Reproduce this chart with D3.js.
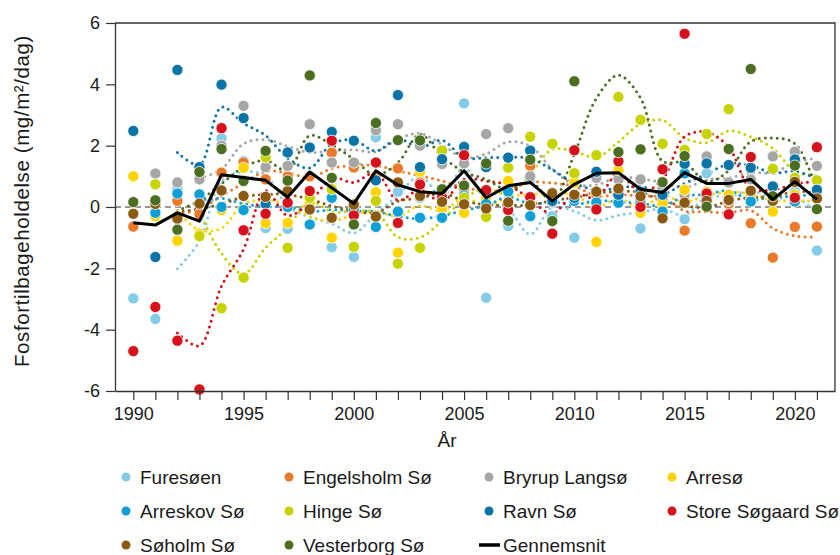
<!DOCTYPE html>
<html>
<head>
<meta charset="utf-8">
<script src="https://cdn.jsdelivr.net/npm/d3@7"></script>
<style>
  body { margin: 0; background: #fff; }
  text { font-family: "Liberation Sans", Arial, sans-serif; fill: #1a1a1a; }
</style>
</head>
<body>
<svg id="chart" width="840" height="555"></svg>
<script>
// Phosphorus retention per lake, mg/m²/dag, one value per year 1990–2021
const years = d3.range(1990, 2022);

const furesoen     = [-2.98, -3.65, 0.6, -0.3, 2.24, 1.5, -0.69, -0.71, 0.4, -1.31, -1.63, 2.27, 0.5, 0.3, 0.2, 3.38, -2.96, -0.62, 0.9, -0.3, -1.0, 0.0, 0.2, -0.7, 0.3, -0.4, 1.1, 0.3, 0.2, 0.3, 0.5, -1.42];
const engelsholm   = [-0.64, -0.2, 0.2, -0.23, 1.12, 1.45, 0.9, 1.0, 1.0, 1.77, 1.29, 1.0, 1.26, 0.8, 0.5, 0.6, 0.5, 0.6, 1.34, 0.4, 0.3, 0.4, 0.5, 0.2, 0.2, -0.77, 0.1, 0.1, -0.53, -1.65, -0.65, -0.64];
const bryrup       = [null, 1.09, 0.8, 0.9, 2.0, 3.3, 1.3, 1.34, 2.7, 1.45, 1.45, 2.5, 2.7, 2.0, 1.4, 1.42, 2.38, 2.57, 1.0, 0.15, 1.07, 0.95, 0.9, 0.9, 0.6, 0.4, 1.65, 0.8, 0.9, 1.65, 1.8, 1.34];
const arreso       = [1.0, -0.3, -1.1, -0.87, -0.1, 1.28, -0.53, -0.52, 0.14, -1.0, 0.1, 0.48, -1.49, 1.15, -0.05, -0.19, 0.3, 0.85, 0.1, 0.3, 0.8, -1.14, 1.2, -0.19, 0.1, 0.56, 0.5, 0.4, 0.4, -0.15, 0.4, 0.3];
const arreskov     = [null, -0.19, 0.44, 0.41, 0.0, -0.1, 0.14, 0.0, -0.57, 0.3, -0.1, -0.65, -0.15, -0.35, -0.35, 0.38, 0.1, 0.5, -0.3, 0.3, 0.2, 0.15, 0.14, 0.1, -0.15, 1.1, 0.3, 0.2, 0.18, 0.67, 0.18, 0.5];
const hinge        = [null, 0.74, -0.3, -0.95, -3.3, -2.3, 1.62, -1.33, 0.3, 0.58, -1.3, 0.2, -1.85, -1.33, 1.84, 0.3, -0.32, 1.28, 2.29, 2.06, 1.1, 1.69, 3.59, 2.84, 2.06, 1.86, 2.38, 3.19, 1.3, 1.25, 0.95, 0.87];
const ravn         = [2.48, -1.63, 4.47, 1.3, 3.99, 2.9, 0.1, 1.78, 1.94, 2.45, 2.16, 0.87, 3.65, 1.3, 1.56, 1.96, 1.3, 1.61, 1.84, 0.2, 0.3, 1.15, 0.4, 0.5, 0.4, 1.41, 1.42, 1.37, 1.28, 0.67, 1.55, 0.56];
const storeSogaard = [-4.7, -3.26, -4.36, -5.95, 2.57, -0.76, -0.22, 0.14, 0.52, 2.16, -0.27, 1.45, -0.52, 0.73, 0.3, 1.69, 0.55, -0.1, 0.32, -0.87, 1.85, -0.08, 1.49, 0.0, 1.23, 5.65, 0.44, -0.24, 1.63, 0.3, 0.3, 1.95];
const soholm       = [-0.22, 0.1, -0.38, 0.11, 0.54, 0.36, 0.33, 0.52, -0.08, -0.35, 0.08, -0.31, 0.8, 0.36, 0.17, 0.09, -0.05, 0.15, 0.06, 0.45, 0.4, 0.5, 0.6, 0.35, -0.37, 0.14, 0.2, 0.23, 0.53, 0.2, 0.82, 0.28];
const vesterborg   = [0.16, 0.22, -0.74, 1.14, 1.89, 0.85, 1.83, 0.86, 4.29, 0.95, -0.57, 2.74, 2.18, 2.17, 0.58, 0.7, 1.42, -0.45, 1.54, -0.46, 4.1, 7.0, 1.79, 1.88, 0.81, 1.66, 0.01, 1.89, 4.5, 0.35, 1.35, -0.07];

// Average over all lakes
const gennemsnit   = [-0.51, -0.59, -0.19, -0.46, 1.05, 0.96, 0.87, 0.32, 1.14, 0.63, 0.11, 1.18, 0.72, 0.5, 0.44, 1.18, 0.3, 0.69, 0.8, 0.2, 0.74, 1.1, 1.12, 0.58, 0.47, 1.12, 0.77, 0.77, 0.9, 0.25, 0.83, 0.25];

const lakeNames  = ["Furesøen", "Engelsholm Sø", "Bryrup Langsø", "Arresø", "Arreskov Sø", "Hinge Sø", "Ravn Sø", "Store Søgaard Sø", "Søholm Sø", "Vesterborg Sø"];
const lakeValues = [furesoen, engelsholm, bryrup, arreso, arreskov, hinge, ravn, storeSogaard, soholm, vesterborg];
const lakeColors = ["#84cbe8", "#e9792b", "#a6a6a6", "#fdd400", "#0f9fd6", "#c6d300", "#0b74a6", "#d5121c", "#8a5a12", "#4c6e20"];

const yTicks = [-6, -4, -2, 0, 2, 4, 6];
const xLabelYears = [1990, 1995, 2000, 2005, 2010, 2015, 2020];

const svg = d3.select("#chart");
const plot = { left: 115, right: 835, top: 23, bottom: 391 };

const x = d3.scaleLinear().domain([1989.17, 2021.82]).range([plot.left, plot.right]);
const y = d3.scaleLinear().domain([-6, 6]).range([plot.bottom, plot.top]);

svg.append("defs").append("clipPath").attr("id", "plotClip")
  .append("rect")
  .attr("x", plot.left).attr("y", plot.top)
  .attr("width", plot.right - plot.left).attr("height", plot.bottom - plot.top);

// Zero reference line
svg.append("line")
  .attr("x1", plot.left).attr("x2", plot.right)
  .attr("y1", y(0)).attr("y2", y(0))
  .attr("stroke", "#333").attr("stroke-width", 1.2)
  .attr("stroke-dasharray", "6 4");

const series = lakeNames.map((name, i) => ({
  name,
  color: lakeColors[i],
  points: years.map((yr, j) => ({ year: yr, v: lakeValues[i][j] }))
}));

// 3-year trailing moving average per lake
function movingAverage(points) {
  return points.map((p, j) => {
    if (j < 2) return { year: p.year, v: null };
    const w = [points[j - 2].v, points[j - 1].v, p.v];
    if (w.some(v => v == null)) return { year: p.year, v: null };
    return { year: p.year, v: d3.mean(w) };
  });
}

const trendLine = d3.line()
  .defined(d => d.v != null)
  .x(d => x(d.year)).y(d => y(d.v))
  .curve(d3.curveCatmullRom.alpha(0.5));

const trendG = svg.append("g").attr("clip-path", "url(#plotClip)");
series.forEach(s => {
  trendG.append("path")
    .attr("d", trendLine(movingAverage(s.points)))
    .attr("fill", "none")
    .attr("stroke", s.color)
    .attr("stroke-width", 3)
    .attr("stroke-linecap", "round")
    .attr("stroke-dasharray", "0 6");
});

// Yearly markers
const pointG = svg.append("g");
series.forEach(s => {
  pointG.selectAll(null)
    .data(s.points.filter(p => p.v != null && p.v >= -6 && p.v <= 6))
    .join("circle")
    .attr("cx", d => x(d.year))
    .attr("cy", d => y(d.v))
    .attr("r", 5.6)
    .attr("fill", s.color)
    .attr("stroke", "#fff")
    .attr("stroke-width", 0.8);
});

// Average line
svg.append("path")
  .datum(years.map((yr, j) => ({ year: yr, v: gennemsnit[j] })))
  .attr("d", d3.line().x(d => x(d.year)).y(d => y(d.v)))
  .attr("fill", "none")
  .attr("stroke", "#000")
  .attr("stroke-width", 3)
  .attr("stroke-linejoin", "round");

// Frame (top and right)
svg.append("path")
  .attr("d", `M${plot.left},${plot.top}H${plot.right}V${plot.bottom}`)
  .attr("fill", "none").attr("stroke", "#333").attr("stroke-width", 1.3);

// Axes
const yAxis = svg.append("g")
  .attr("transform", `translate(${plot.left},0)`)
  .call(d3.axisLeft(y).tickValues(yTicks).tickSize(9).tickSizeOuter(0).tickPadding(6)
    .tickFormat(d => String(d)));

const xAxis = svg.append("g")
  .attr("transform", `translate(0,${plot.bottom})`)
  .call(d3.axisBottom(x).tickValues(years).tickSize(9).tickSizeOuter(0).tickPadding(7)
    .tickFormat(d => xLabelYears.includes(d) ? String(d) : ""));

[yAxis, xAxis].forEach(g => {
  g.select(".domain").attr("stroke", "#333").attr("stroke-width", 1.3);
  g.selectAll(".tick line").attr("stroke", "#333").attr("stroke-width", 1.2);
  g.selectAll(".tick text").attr("font-size", 18).attr("fill", "#1a1a1a")
    .style("font-family", '"Liberation Sans", Arial, sans-serif');
});

// Axis titles
svg.append("text")
  .attr("transform", `translate(29,201) rotate(-90)`)
  .attr("text-anchor", "middle")
  .attr("font-size", 20.5)
  .attr("letter-spacing", 0.6)
  .text("Fosfortilbageholdelse (mg/m²/dag)");

svg.append("text")
  .attr("x", 447).attr("y", 447)
  .attr("text-anchor", "middle")
  .attr("font-size", 19)
  .text("År");

// Legend
const legendCols = [126, 289, 489, 672];
const legendRows = [477, 511, 545];
const legend = svg.append("g");
series.forEach((s, i) => {
  const cx = legendCols[i % 4], cy = legendRows[Math.floor(i / 4)];
  legend.append("circle").attr("cx", cx).attr("cy", cy).attr("r", 4.5).attr("fill", s.color);
  legend.append("text").attr("x", cx + 14).attr("y", cy + 6.5).attr("font-size", 19).text(s.name);
});
legend.append("line")
  .attr("x1", 479).attr("x2", 500)
  .attr("y1", legendRows[2]).attr("y2", legendRows[2])
  .attr("stroke", "#000").attr("stroke-width", 3.5);
legend.append("text").attr("x", 503).attr("y", legendRows[2] + 6.5).attr("font-size", 19).text("Gennemsnit");
</script>
</body>
</html>
